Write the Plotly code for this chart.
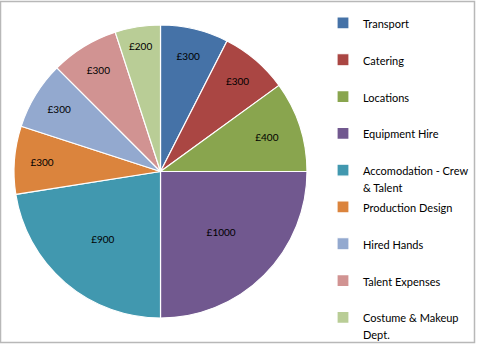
import plotly.graph_objects as go

W, H = 478, 345

# Budget breakdown
categories = [
    "Transport",
    "Catering",
    "Locations",
    "Equipment Hire",
    "Accomodation - Crew<br>& Talent",
    "Production Design",
    "Hired Hands",
    "Talent Expenses",
    "Costume & Makeup<br>Dept.",
]
values = [300, 300, 400, 1000, 900, 300, 300, 300, 200]
colors = [
    "#4572A7", "#AA4643", "#89A54E", "#71588F", "#4198AF",
    "#DB843D", "#93A9CF", "#D19392", "#B9CD96",
]


def legend_entry(label):
    # Every entry spans two legend lines; visible text is set in a smaller span
    lines = label.split("<br>")
    if len(lines) == 1:
        lines.append(" ")
    return "<br>".join('<span style="font-size:11px">%s</span>' % ln for ln in lines)


legend_labels = [legend_entry(c) for c in categories]
value_text = ["£%d" % v for v in values]

fig = go.Figure(
    go.Pie(
        labels=legend_labels,
        values=values,
        text=value_text,
        textinfo="text",
        textposition="inside",
        insidetextorientation="horizontal",
        textfont=dict(family="Lato, Open Sans, sans-serif", size=10, color="#000000"),
        marker=dict(colors=colors, line=dict(color="#FFFFFF", width=1.2)),
        sort=False,
        direction="clockwise",
        rotation=0,
        hoverinfo="value",
        domain=dict(x=[14 / W, 307 / W], y=[1 - 318 / H, 1 - 25 / H]),
    )
)

fig.update_layout(
    width=W,
    height=H,
    margin=dict(l=0, r=0, t=0, b=0, autoexpand=False),
    paper_bgcolor="#FFFFFF",
    plot_bgcolor="#FFFFFF",
    font=dict(family="Lato, Open Sans, sans-serif", size=11, color="#000000"),
    uniformtext=dict(minsize=10, mode="show"),
    legend=dict(
        x=323 / W,
        xanchor="left",
        y=1 - 8 / H,
        yanchor="top",
        valign="top",
        font=dict(size=13),
        bgcolor="rgba(0,0,0,0)",
    ),
    shapes=[
        dict(
            type="rect", xref="paper", yref="paper",
            x0=0.5 / W, x1=474.5 / W, y0=1 - 342.5 / H, y1=1 - 1.5 / H,
            line=dict(color="#B8B8B8", width=1.5),
        )
    ],
)

fig.write_html("out.html")
